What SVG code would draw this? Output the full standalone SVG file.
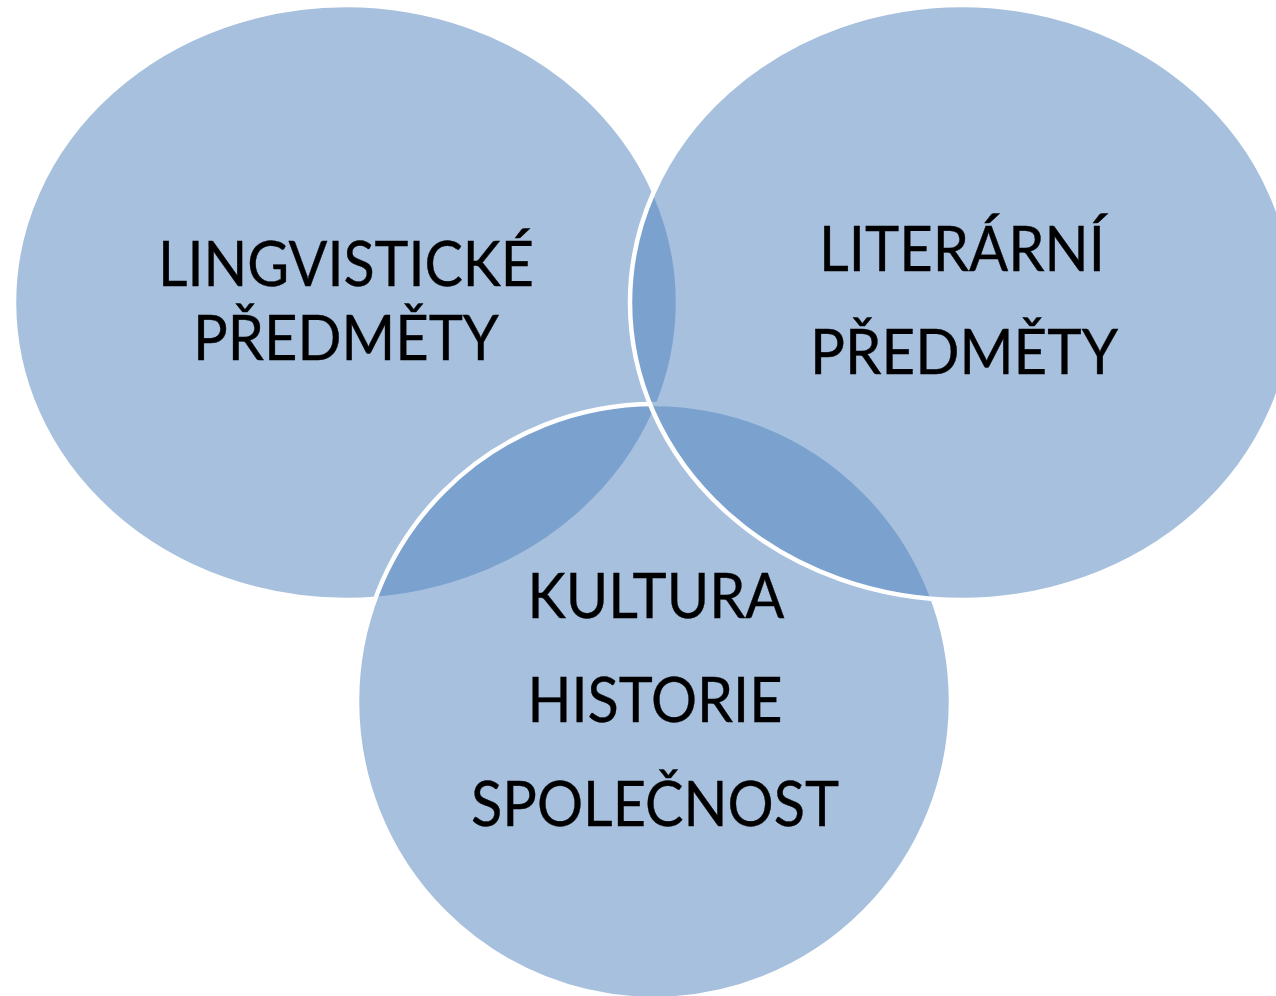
<svg xmlns="http://www.w3.org/2000/svg" width="1276" height="996" viewBox="0 0 1276 996">
<style>
.c{fill:#4F81BD;fill-opacity:0.5;stroke:#FFFFFF;stroke-width:4.5}
.t{font-family:Lato,"Open Sans","Liberation Sans",sans-serif;font-size:62px;fill:#000000;text-anchor:middle;stroke:#000000;stroke-width:0.4}
</style>
<rect width="1276" height="996" fill="#FFFFFF"/>
<g id="node-lingvisticke">
<ellipse class="c" cx="346" cy="302.5" rx="332" ry="297.5"/>
</g>
<g id="node-kultura">
<ellipse class="c" cx="654" cy="701.5" rx="297" ry="297.5"/>
</g>
<g id="node-literarni">
<ellipse class="c" cx="962" cy="302.5" rx="332" ry="297.5"/>
</g>
<g id="labels">
<text class="t" x="346" y="286" textLength="376" lengthAdjust="spacingAndGlyphs">LINGVISTICKÉ</text>
<text class="t" x="346" y="360" textLength="306" lengthAdjust="spacingAndGlyphs">PŘEDMĚTY</text>
<text class="t" x="962" y="271" textLength="286" lengthAdjust="spacingAndGlyphs">LITERÁRNÍ</text>
<text class="t" x="964" y="374" textLength="308" lengthAdjust="spacingAndGlyphs">PŘEDMĚTY</text>
<text class="t" x="656" y="618" textLength="257" lengthAdjust="spacingAndGlyphs">KULTURA</text>
<text class="t" x="655" y="722" textLength="255" lengthAdjust="spacingAndGlyphs">HISTORIE</text>
<text class="t" x="655" y="826" textLength="368" lengthAdjust="spacingAndGlyphs">SPOLEČNOST</text>
</g>
<g id="connectors"/>
</svg>
